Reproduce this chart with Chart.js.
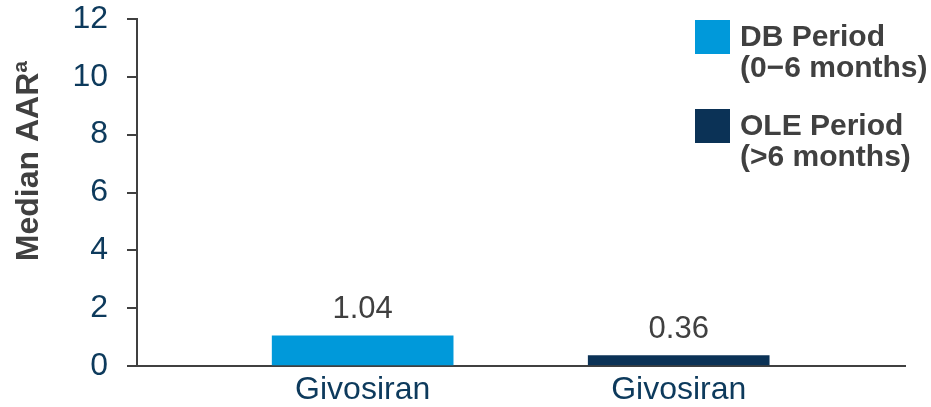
<!DOCTYPE html>
<html>
<head>
<meta charset="utf-8">
<script src="https://cdn.jsdelivr.net/npm/chart.js@4/dist/chart.umd.min.js"></script>
<style>
  html, body { margin: 0; padding: 0; background: #fff; }
  #wrap { position: relative; width: 931px; height: 407px; }
</style>
</head>
<body>
<div id="wrap"><canvas id="chart1"></canvas></div>
<script>
// chart values
var categories = ['Givosiran', 'Givosiran'];
var seriesNames = [['DB Period', '(0\u22126 months)'], ['OLE Period', '(>6 months)']];
var dbValues = [1.04];
var oleValues = [0.36];
var yTicks = [0, 2, 4, 6, 8, 10, 12];
var yTitle = 'Median AAR\u00aa';

var FONT = "Arial, 'Liberation Sans', sans-serif";
var GREY = '#404040';
var NAVY = '#0d3a5c';

// numbers above the bars
var valueLabels = {
    id: 'valueLabels',
    afterDatasetsDraw: function (chart) {
        var ctx = chart.ctx;
        ctx.save();
        ctx.font = '31px ' + FONT;
        ctx.fillStyle = GREY;
        ctx.textAlign = 'center';
        ctx.textBaseline = 'alphabetic';
        chart.data.datasets.forEach(function (ds, i) {
            chart.getDatasetMeta(i).data.forEach(function (bar, j) {
                ctx.fillText(ds.data[j].y.toFixed(2), bar.x, bar.y - 18);
            });
        });
        ctx.restore();
    }
};

// rotated y title, sitting a bit above the middle of the axis
var axisTitle = {
    id: 'axisTitle',
    afterDraw: function (chart) {
        var ctx = chart.ctx;
        ctx.save();
        ctx.translate(29, 161);
        ctx.rotate(-Math.PI / 2);
        ctx.font = 'bold 32px ' + FONT;
        ctx.fillStyle = GREY;
        ctx.textAlign = 'center';
        ctx.textBaseline = 'middle';
        ctx.fillText(yTitle, 0, 0);
        ctx.restore();
    }
};

// legend boxes with two-line labels, top right
var sideLegend = {
    id: 'sideLegend',
    afterDraw: function (chart) {
        var ctx = chart.ctx;
        ctx.save();
        ctx.font = 'bold 30px ' + FONT;
        ctx.textBaseline = 'middle';
        ctx.textAlign = 'left';
        chart.data.datasets.forEach(function (ds, i) {
            var top = 20 + i * 89;
            ctx.fillStyle = ds.backgroundColor;
            ctx.fillRect(695, top, 35, 34);
            ctx.fillStyle = GREY;
            ds.label.forEach(function (line, k) {
                ctx.fillText(line, 740, top + 18 + k * 31);
            });
        });
        ctx.restore();
    }
};

new Chart(document.getElementById('chart1'), {
    type: 'bar',
    data: {
        datasets: [
            {
                label: seriesNames[0],
                data: dbValues.map(function (v) { return { x: 0, y: v }; }),
                backgroundColor: '#0099da'
            },
            {
                label: seriesNames[1],
                data: oleValues.map(function (v) { return { x: 1, y: v }; }),
                backgroundColor: '#0b3256'
            }
        ]
    },
    plugins: [valueLabels, axisTitle, sideLegend],
    options: {
        responsive: true,
        maintainAspectRatio: false,
        animation: false,
        events: [],
        layout: { autoPadding: false, padding: { top: 19, right: 26, left: 0, bottom: 0 } },
        datasets: { bar: { grouped: false, barThickness: 181 } },
        plugins: {
            legend: { display: false },
            tooltip: { enabled: false }
        },
        scales: {
            x: {
                type: 'linear',
                offset: false,
                min: -0.714,
                max: 1.716,
                afterBuildTicks: function (scale) {
                    scale.ticks = categories.map(function (c, i) { return { value: i }; });
                },
                afterFit: function (scale) { scale.height = 41; },
                grid: { display: false, drawTicks: false },
                border: { display: true, color: GREY, width: 2 },
                ticks: {
                    padding: 5,
                    color: NAVY,
                    font: { family: FONT, size: 32 },
                    maxRotation: 0,
                    callback: function (v) { return categories[v]; }
                }
            },
            y: {
                min: 0,
                max: 12,
                afterBuildTicks: function (scale) {
                    scale.ticks = yTicks.map(function (v) { return { value: v }; });
                },
                // fixed axis width, and no extra room reserved for the end labels
                afterFit: function (scale) {
                    scale.width = 137;
                    scale.paddingTop = 0;
                    scale.paddingBottom = 0;
                },
                grid: { drawOnChartArea: false, drawTicks: true, tickLength: 10, color: GREY, lineWidth: 2 },
                border: { display: true, color: GREY, width: 2 },
                ticks: {
                    padding: 19,
                    color: NAVY,
                    font: { family: FONT, size: 32 }
                }
            }
        }
    }
});
</script>
</body>
</html>
